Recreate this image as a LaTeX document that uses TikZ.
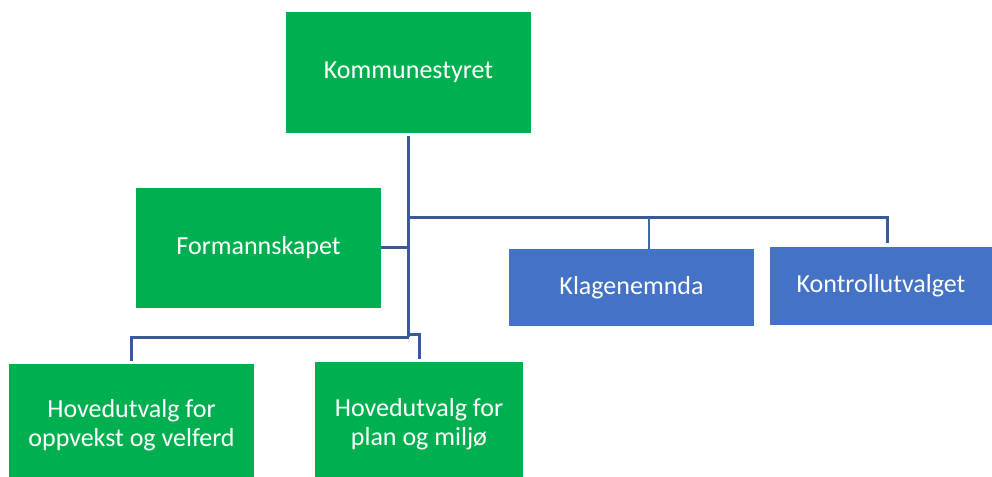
\documentclass[tikz,border=0pt]{standalone}
\usepackage{fontspec}
\setmainfont{Carlito}
\usepackage{tikz}
\usetikzlibrary{calc}
\definecolor{orggreen}{RGB}{0,176,80}
\definecolor{orgblue}{RGB}{68,114,196}
\definecolor{orgline}{RGB}{59,89,152}

\begin{document}
\begin{tikzpicture}[
x=0.75pt, y=-0.75pt,
unit/.style={
	rectangle, inner sep=0pt, text=white,
	font=\fontsize{19.5}{21.75}\selectfont,
	align=center, minimum width=183.75pt
},
green/.style={unit, fill=orggreen},
blue/.style={unit, fill=orgblue},
link/.style={draw=orgline, line width=2.25pt},
thin link/.style={draw=orgblue!90!black, line width=0.9pt}
]
\useasboundingbox (0,0) rectangle (992,477);
\node[green, minimum height=90.75pt] (kom) at (408.5,72.5) {Kommunestyret};
\node[green, minimum height=90pt] (form) at (258.5,248) {Formannskapet};
\node[blue, minimum height=57.75pt] (klag) at (631.5,287.5) {Klagenemnda};
\node[blue, minimum width=166.5pt, minimum height=58.5pt] (kon) at (881,286) {Kontrollutvalget};
\node[green, minimum height=91.5pt] (hov1) at (131.5,425) {Hovedutvalg for\\oppvekst og velferd};
\node[green, minimum width=156pt, minimum height=93pt] (hov2) at (419,424) {Hovedutvalg for\\plan og milj\o};
% trunk and branches
\coordinate (hub) at (408.5,218);
\coordinate (trunk) at (408.5,337);
\coordinate (trunk2) at (408.5,334);
\coordinate (kontop) at (887,243);
\coordinate (klagtop) at (649,249);
\draw[link] ([yshift=-2pt]kom.south) -- (trunk);
\draw[link] (hub) -| (kontop);
\draw[thin link] (hub -| klagtop) -- (klagtop);
\draw[link] (form.east) -- (form.east -| hub);
\draw[link] (trunk) -| ([yshift=2pt]hov1.north);
\draw[link] (trunk2) -| ([yshift=2pt]hov2.north);
\end{tikzpicture}
\end{document}
